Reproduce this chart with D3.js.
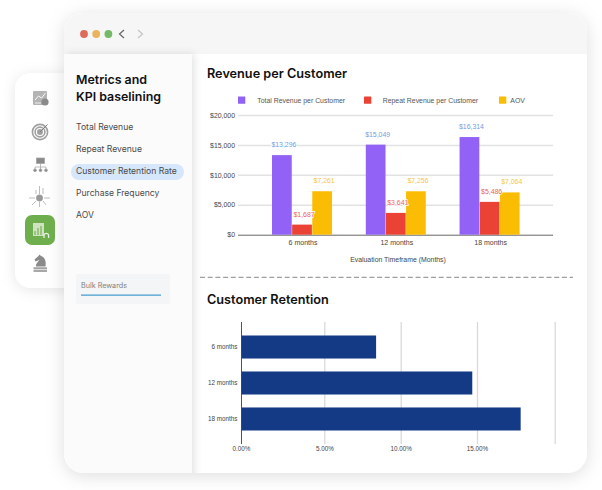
<!DOCTYPE html>
<html>
<head>
<meta charset="utf-8">
<script src="https://cdn.jsdelivr.net/npm/d3@7"></script>
<style>
  html, body { margin: 0; padding: 0; background: #fff; }
  svg { display: block; }
  text { font-family: "Liberation Sans", Arial, sans-serif; }
  text.head { font-family: Inter, sans-serif; font-weight: 600; fill: #111; }
  text.side { font-family: Inter, sans-serif; font-size: 8.6px; fill: #4a4a4a; }
  text.bulk { font-family: Inter, sans-serif; font-size: 7.2px; fill: #808080; }
</style>
</head>
<body>
<svg id="chart" width="602" height="490"></svg>
<script>
var menuItems = ["Total Revenue", "Repeat Revenue", "Customer Retention Rate", "Purchase Frequency", "AOV"];

var timeframes = ["6 months", "12 months", "18 months"];
var seriesNames = ["Total Revenue per Customer", "Repeat Revenue per Customer", "AOV"];
var totalRevenue = [13296, 15049, 16314];
var repeatRevenue = [1687, 3641, 5486];
var aov = [7261, 7256, 7064];
var revenueTicks = [0, 5000, 10000, 15000, 20000];

var retention = [8.39, 14.69, 17.81];
var retentionTicks = [0, 5, 10, 15, 20];
var retentionLabels = ["0.00%", "5.00%", "10.00%", "15.00%", ""];

var seriesValues = [totalRevenue, repeatRevenue, aov];
var seriesColors = ["#9162f5", "#ea4335", "#fbbc04"];
var labelColors = ["#6fa0e0", "#e8655a", "#f6c544"];

var svg = d3.select("#chart");
var defs = svg.append("defs");

function shadow(id, dx, dy, blur, op) {
    defs.append("filter").attr("id", id)
        .attr("x", "-20%").attr("y", "-20%").attr("width", "140%").attr("height", "140%")
        .append("feDropShadow")
        .attr("dx", dx).attr("dy", dy).attr("stdDeviation", blur)
        .attr("flood-color", "#000").attr("flood-opacity", op);
}
shadow("shRail", 0, 2, 7, 0.10);
shadow("shWin", 0, 3, 9, 0.13);
shadow("shSide", 2, 0, 4, 0.12);

// left icon rail
svg.append("rect").attr("x", 15).attr("y", 73).attr("width", 70).attr("height", 215)
    .attr("rx", 16).attr("fill", "#fff").attr("filter", "url(#shRail)");

// main window
svg.append("rect").attr("x", 64).attr("y", 13).attr("width", 523).attr("height", 460)
    .attr("rx", 20).attr("fill", "#fff").attr("filter", "url(#shWin)");

defs.append("clipPath").attr("id", "winClip").append("rect")
    .attr("x", 64).attr("y", 13).attr("width", 523).attr("height", 460).attr("rx", 20);
var win = svg.append("g").attr("clip-path", "url(#winClip)");

win.append("rect").attr("x", 64).attr("y", 13).attr("width", 523).attr("height", 41).attr("fill", "#f5f6f5");
win.append("rect").attr("x", 64).attr("y", 54).attr("width", 128).attr("height", 430)
    .attr("fill", "#fbfbfc").attr("filter", "url(#shSide)");

// window buttons and arrows
svg.selectAll(".dot").data(["#de6a5a", "#ecb45a", "#74b966"]).enter().append("circle")
    .attr("class", "dot")
    .attr("cx", function(d, i) { return 84 + i * 12.2; })
    .attr("cy", 34).attr("r", 3.9).attr("fill", function(d) { return d; });
svg.append("path").attr("d", "M124,30 L119.5,34 L124,38").attr("fill", "none")
    .attr("stroke", "#666").attr("stroke-width", 1.2);
svg.append("path").attr("d", "M138,30 L142.5,34 L138,38").attr("fill", "none")
    .attr("stroke", "#c4c4c4").attr("stroke-width", 1.2);

// sidebar text
svg.append("text").attr("class", "head").attr("x", 76).attr("y", 84).attr("font-size", 12.4).text("Metrics and");
svg.append("text").attr("class", "head").attr("x", 76).attr("y", 101).attr("font-size", 12.4).text("KPI baselining");

svg.append("rect").attr("x", 71).attr("y", 164).attr("width", 113).attr("height", 16)
    .attr("rx", 8).attr("fill", "#d6e6fb");

svg.selectAll(".side").data(menuItems).enter().append("text")
    .attr("class", "side")
    .attr("x", 76)
    .attr("y", function(d, i) { return 130 + i * 22; })
    .text(function(d) { return d; });

svg.append("rect").attr("x", 76).attr("y", 274).attr("width", 94).attr("height", 30).attr("rx", 2).attr("fill", "#f4f5f7");
svg.append("text").attr("class", "bulk").attr("x", 81).attr("y", 287.5).text("Bulk Rewards");
svg.append("rect").attr("x", 81).attr("y", 294.6).attr("width", 80).attr("height", 1)
    .attr("fill", "#1c86c4");

// rail icons
var grey = "#a0a0a0";
var icon1 = svg.append("g");
icon1.append("rect").attr("x", 33).attr("y", 91).attr("width", 14).attr("height", 14).attr("rx", 1).attr("fill", "#b4b4b4");
icon1.append("path").attr("d", "M35,100 L38.5,96 L41.5,98 L45.5,93").attr("fill", "none").attr("stroke", "#fff").attr("stroke-width", 0.9);
icon1.append("path").attr("d", "M35,103 H41").attr("stroke", "#fff").attr("stroke-width", 0.8);
icon1.append("circle").attr("cx", 45).attr("cy", 102).attr("r", 3.6).attr("fill", "#8a8a8a");

var icon2 = svg.append("g");
[7.6, 4.9, 2.2].forEach(function(r, i) {
    icon2.append("circle").attr("cx", 40).attr("cy", 132).attr("r", r)
        .attr("fill", i === 2 ? grey : "none").attr("stroke", grey).attr("stroke-width", 1.6);
});
icon2.append("path").attr("d", "M40,132 L47.5,124.5").attr("stroke", "#808080").attr("stroke-width", 1);

var icon3 = svg.append("g").attr("stroke", grey).attr("stroke-width", 0.7).attr("fill", "none");
icon3.append("rect").attr("x", 36.5).attr("y", 158).attr("width", 8).attr("height", 5.5).attr("fill", "#8a8a8a");
icon3.append("path").attr("d", "M40.5,163.5 V167 M35,169.5 V167 H46 V169.5 M40.5,167 V169.5");
[35, 40.5, 46].forEach(function(x) {
    icon3.append("circle").attr("cx", x).attr("cy", 170.3).attr("r", 1.4).attr("fill", "#8a8a8a");
});

var icon4 = svg.append("g").attr("stroke", grey).attr("stroke-width", 0.7).attr("fill", "none");
icon4.append("circle").attr("cx", 39.5).attr("cy", 198).attr("r", 3.2).attr("fill", "#999");
icon4.append("path").attr("d", "M39.5,194 V186 M43,194 V188 M36,194 V190 M35,198 H29 M44,198 H50 M36,201 L32,205 M43,201 L46,205 M39.5,202 V207");

svg.append("rect").attr("x", 25).attr("y", 215).attr("width", 30).attr("height", 30)
    .attr("rx", 7).attr("fill", "#6fae4c");
svg.append("rect").attr("x", 33).attr("y", 223).attr("width", 11).attr("height", 13).attr("fill", "#cfe3c3");
svg.append("path").attr("d", "M35,235 V231 M38,235 V228 M41,235 V226").attr("stroke", "#6fae4c").attr("stroke-width", 1.1);
svg.append("path").attr("d", "M44,238 V235 A2.4,2.4 0 0 1 48.6,235 V238").attr("fill", "none").attr("stroke", "#e8f2e2").attr("stroke-width", 1.3);

// chess knight
svg.append("path")
    .attr("d", "M36,266.5 C36,263 38,262 39.5,260 L35.5,261.5 L34.5,259.5 L38.5,256 L39.5,254.5 L41,256 C44.5,257 46.5,261 45.5,266.5 Z")
    .attr("fill", "#8a8a8a");
svg.append("rect").attr("x", 33.5).attr("y", 267.3).attr("width", 13.5).attr("height", 1.6).attr("fill", "#9a9a9a");
svg.append("rect").attr("x", 33.5).attr("y", 269.6).attr("width", 13.5).attr("height", 2.4).attr("fill", "#a8a8a8");

// Revenue per Customer
svg.append("text").attr("class", "head").attr("x", 207).attr("y", 78).attr("font-size", 12.7).text("Revenue per Customer");

var legendX = [238, 364, 499];
var legendTextX = [257.3, 382.7, 510.3];
var legend = svg.selectAll(".legend").data(seriesNames).enter().append("g").attr("class", "legend");
legend.append("rect")
    .attr("x", function(d, i) { return legendX[i]; })
    .attr("y", 96.5).attr("width", 7.3).attr("height", 7.3).attr("rx", 0.5)
    .attr("fill", function(d, i) { return seriesColors[i]; });
legend.append("text")
    .attr("x", function(d, i) { return legendTextX[i]; })
    .attr("y", 102.5).attr("font-size", 6.9).attr("fill", "#555")
    .text(function(d) { return d; });

var y = d3.scaleLinear().domain([0, 20000]).range([234.7, 115]);
var x0 = d3.scaleBand().domain(timeframes).range([272, 519.6]).paddingInner(0.36).paddingOuter(0);
var x1 = d3.scaleBand().domain(seriesNames).range([0, x0.bandwidth()]).paddingInner(0.02);

var yAxis = svg.append("g").attr("transform", "translate(238,0)")
    .call(d3.axisLeft(y).tickValues(revenueTicks).tickSize(-315).tickPadding(3)
        .tickFormat(function(d) { return "$" + d3.format(",")(d); }));
yAxis.select(".domain").remove();
yAxis.selectAll("line").attr("stroke", function(d) { return d === 0 ? "#666" : "#e2e2e2"; })
    .attr("stroke-width", function(d) { return d === 0 ? 1 : 1.5; });
yAxis.selectAll("text").attr("font-size", 6.9).attr("fill", "#444");

var xAxis = svg.append("g").attr("transform", "translate(1,234.7)")
    .call(d3.axisBottom(x0).tickSize(0).tickPadding(5));
xAxis.select(".domain").remove();
xAxis.selectAll("text").attr("font-size", 7).attr("fill", "#444");

svg.append("text").attr("x", 398).attr("y", 262.3).attr("text-anchor", "middle")
    .attr("font-size", 6.9).attr("fill", "#444").text("Evaluation Timeframe (Months)");

var groups = svg.selectAll(".group").data(seriesNames).enter().append("g").attr("class", "group");
groups.each(function(name, s) {
    d3.select(this).selectAll("rect").data(seriesValues[s]).enter().append("rect")
        .attr("x", function(d, i) { return x0(timeframes[i]) + x1(name); })
        .attr("width", x1.bandwidth())
        .attr("y", function(d) { return y(d); })
        .attr("height", function(d) { return y(0) - y(d); })
        .attr("fill", seriesColors[s]);
});

// value labels sit above all the bars
var labels = svg.selectAll(".labels").data(seriesNames).enter().append("g").attr("class", "labels");
labels.each(function(name, s) {
    d3.select(this).selectAll("text").data(seriesValues[s]).enter().append("text")
        .attr("x", function(d, i) { return x0(timeframes[i]) + x1(name) + x1.bandwidth() / 2 + 2; })
        .attr("y", function(d) { return y(d) - 8; })
        .attr("text-anchor", "middle")
        .attr("font-size", 6.9)
        .attr("fill", labelColors[s])
        .attr("stroke", "#fff").attr("stroke-width", 1.6).attr("paint-order", "stroke")
        .text(function(d) { return "$" + d3.format(",")(d); });
});

// divider
svg.append("line").attr("x1", 200).attr("x2", 573).attr("y1", 277.3).attr("y2", 277.3)
    .attr("stroke", "#888").attr("stroke-width", 1).attr("stroke-dasharray", "5,2.7");

// Customer Retention
svg.append("text").attr("class", "head").attr("x", 207).attr("y", 304).attr("font-size", 12.7).text("Customer Retention");

var rx = d3.scaleLinear().domain(retentionTicks).range([241, 324.3, 400.7, 477, 554.7]);
var ry = d3.scaleBand().domain(timeframes).range([322, 444]).paddingInner(0.36).paddingOuter(0.375);

var rxAxis = svg.append("g").attr("transform", "translate(0,444)")
    .call(d3.axisBottom(rx).tickValues(retentionTicks).tickSize(-122).tickPadding(3)
        .tickFormat(function(d, i) { return retentionLabels[i]; }));
rxAxis.select(".domain").remove();
rxAxis.selectAll("line").attr("stroke", function(d) { return d === 0 ? "#555" : "#d9d9d9"; })
    .attr("stroke-width", function(d) { return d === 0 ? 1 : 1.3; });
rxAxis.selectAll("text").attr("font-size", 6.3).attr("fill", "#444");

var ryAxis = svg.append("g").attr("transform", "translate(241,0)")
    .call(d3.axisLeft(ry).tickSize(0).tickPadding(3.5));
ryAxis.select(".domain").remove();
ryAxis.selectAll("text").attr("font-size", 6.3).attr("fill", "#444");

svg.selectAll(".hbar").data(retention).enter().append("rect")
    .attr("class", "hbar")
    .attr("x", rx(0) + 0.5)
    .attr("y", function(d, i) { return ry(timeframes[i]); })
    .attr("width", function(d) { return rx(d) - rx(0) - 0.5; })
    .attr("height", ry.bandwidth())
    .attr("fill", "#153a85");
</script>
</body>
</html>
